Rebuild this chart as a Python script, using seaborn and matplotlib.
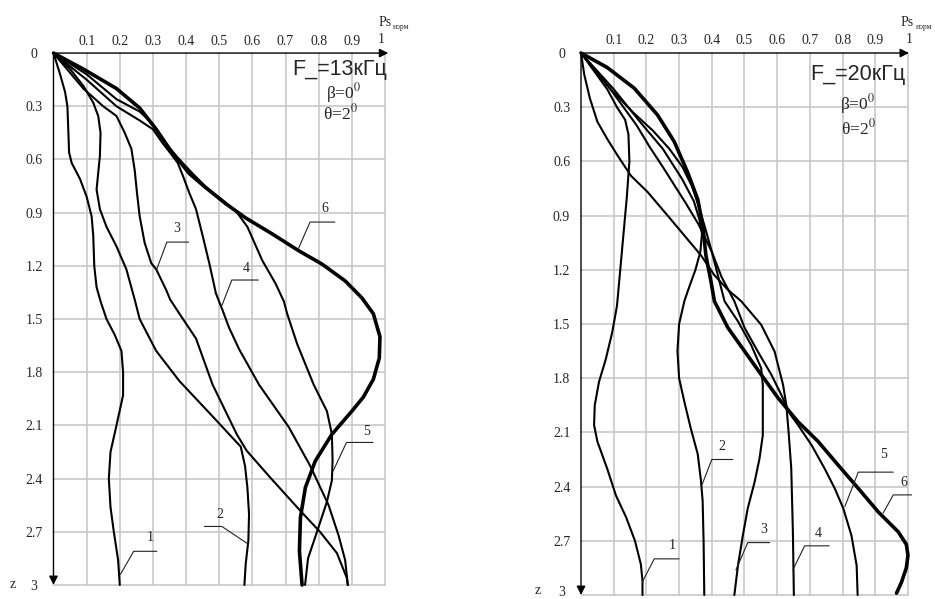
import matplotlib
matplotlib.use("Agg")
import matplotlib.pyplot as plt
import matplotlib.transforms as mtransforms
import seaborn as sns
import numpy as np

sns.set_style("white")
plt.rcParams['font.family'] = ['Liberation Serif', 'DejaVu Serif']
plt.rcParams['mathtext.fontset'] = 'stix'

# ---------------- data: F = 13 kHz (Ps_norm along x, depth z along y) ----------------
f13_c1_ps = [0, 0.02, 0.035, 0.042, 0.045, 0.047, 0.055, 0.08, 0.10, 0.115, 0.12, 0.123, 0.13, 0.142,
             0.16, 0.185, 0.205, 0.21, 0.21, 0.19, 0.172, 0.167, 0.172, 0.182, 0.195, 0.20]
f13_c1_z = [0, 0.12, 0.22, 0.30, 0.45, 0.56, 0.62, 0.71, 0.81, 0.92, 1.03, 1.20, 1.32, 1.40,
            1.50, 1.59, 1.68, 1.80, 1.93, 2.10, 2.25, 2.40, 2.56, 2.70, 2.86, 3.0]

f13_c2_ps = [0, 0.05, 0.09, 0.12, 0.135, 0.142, 0.14, 0.135, 0.13, 0.14, 0.16, 0.19, 0.22, 0.245,
             0.26, 0.31, 0.38, 0.483, 0.54, 0.565, 0.578, 0.585, 0.59, 0.588, 0.58, 0.576]
f13_c2_z = [0, 0.09, 0.185, 0.28, 0.355, 0.45, 0.58, 0.675, 0.77, 0.88, 0.98, 1.09, 1.22, 1.39,
            1.50, 1.68, 1.85, 2.055, 2.17, 2.22, 2.33, 2.45, 2.60, 2.75, 2.88, 3.0]

f13_c3_ps = [0, 0.09, 0.15, 0.19, 0.215, 0.235, 0.245, 0.252, 0.26, 0.275, 0.295, 0.31, 0.34, 0.352,
             0.38, 0.43, 0.48, 0.553, 0.583, 0.654, 0.744, 0.804, 0.855, 0.885, 0.888]
f13_c3_z = [0, 0.20, 0.30, 0.355, 0.45, 0.54, 0.66, 0.79, 0.92, 1.07, 1.185, 1.22, 1.336, 1.39,
            1.47, 1.61, 1.87, 2.15, 2.243, 2.394, 2.58, 2.70, 2.82, 2.96, 3.0]

f13_c4_ps = [0, 0.10, 0.19, 0.26, 0.30, 0.33, 0.355, 0.375, 0.39, 0.41, 0.43, 0.45, 0.47, 0.49,
             0.51, 0.53, 0.56, 0.62, 0.71, 0.775, 0.83, 0.86, 0.88, 0.888]
f13_c4_z = [0, 0.15, 0.30, 0.38, 0.43, 0.51, 0.57, 0.62, 0.69, 0.79, 0.88, 1.03, 1.185, 1.355,
            1.45, 1.55, 1.67, 1.87, 2.11, 2.33, 2.55, 2.72, 2.86, 3.0]

f13_c5_ps = [0, 0.10, 0.19, 0.26, 0.30, 0.33, 0.36, 0.385, 0.42, 0.46, 0.51, 0.55, 0.585, 0.63,
             0.67, 0.695, 0.705, 0.735, 0.785, 0.825, 0.84, 0.842, 0.84, 0.825, 0.795, 0.768, 0.759]
f13_c5_z = [0, 0.12, 0.26, 0.33, 0.40, 0.49, 0.56, 0.61, 0.68, 0.755, 0.83, 0.89, 0.98, 1.17,
            1.30, 1.40, 1.47, 1.64, 1.87, 2.02, 2.15, 2.30, 2.41, 2.53, 2.70, 2.85, 3.0]

f13_c6_ps = [0, 0.09, 0.19, 0.26, 0.31, 0.35, 0.38, 0.41, 0.46, 0.52, 0.58, 0.66, 0.74, 0.81,
             0.88, 0.93, 0.965, 0.985, 0.983, 0.965, 0.935, 0.90, 0.84, 0.79, 0.76, 0.745, 0.742, 0.75]
f13_c6_z = [0, 0.09, 0.20, 0.31, 0.43, 0.54, 0.61, 0.68, 0.76, 0.85, 0.93, 1.02, 1.115, 1.19,
            1.285, 1.38, 1.47, 1.60, 1.72, 1.84, 1.94, 2.02, 2.15, 2.30, 2.45, 2.62, 2.81, 3.0]

# ---------------- data: F = 20 kHz ----------------
f20_c1_ps = [0, 0.04, 0.08, 0.11, 0.135, 0.145, 0.148, 0.14, 0.13, 0.12, 0.11, 0.095, 0.075, 0.055,
             0.042, 0.04, 0.05, 0.08, 0.107, 0.138, 0.165, 0.183, 0.188, 0.188]
f20_c1_z = [0, 0.10, 0.20, 0.30, 0.37, 0.45, 0.60, 0.80, 1.00, 1.20, 1.40, 1.55, 1.70, 1.82,
            1.95, 2.06, 2.15, 2.30, 2.45, 2.57, 2.70, 2.83, 2.92, 3.0]

f20_c2_ps = [0, 0.10, 0.18, 0.25, 0.31, 0.345, 0.362, 0.37, 0.365, 0.35, 0.33, 0.316, 0.30, 0.295,
             0.30, 0.316, 0.336, 0.357, 0.367, 0.372, 0.375, 0.377]
f20_c2_z = [0, 0.20, 0.38, 0.53, 0.70, 0.82, 0.92, 1.00, 1.10, 1.20, 1.30, 1.374, 1.50, 1.65,
            1.80, 1.93, 2.08, 2.22, 2.37, 2.48, 2.71, 3.0]

f20_c3_ps = [0, 0.09, 0.13, 0.17, 0.21, 0.25, 0.285, 0.32, 0.36, 0.40, 0.42, 0.439, 0.48, 0.52,
             0.551, 0.556, 0.556, 0.556, 0.546, 0.531, 0.51, 0.495, 0.48, 0.469]
f20_c3_z = [0, 0.20, 0.30, 0.40, 0.52, 0.63, 0.73, 0.83, 0.95, 1.10, 1.24, 1.374, 1.485, 1.615,
            1.744, 1.837, 1.967, 2.115, 2.244, 2.374, 2.52, 2.67, 2.837, 3.0]

f20_c4_ps = [0, 0.01, 0.027, 0.05, 0.08, 0.112, 0.153, 0.204, 0.265, 0.316, 0.367, 0.408, 0.449, 0.49,
             0.551, 0.592, 0.618, 0.628, 0.635, 0.643, 0.648, 0.651]
f20_c4_z = [0, 0.12, 0.25, 0.38, 0.475, 0.568, 0.68, 0.77, 0.90, 1.01, 1.12, 1.23, 1.31, 1.374,
            1.504, 1.652, 1.837, 1.95, 2.10, 2.30, 2.65, 3.0]

f20_c5_ps = [0, 0.09, 0.16, 0.22, 0.27, 0.31, 0.34, 0.36, 0.38, 0.40, 0.43, 0.469, 0.50, 0.54,
             0.582, 0.612, 0.64, 0.664, 0.705, 0.745, 0.776, 0.802, 0.827, 0.843, 0.846]
f20_c5_z = [0, 0.20, 0.33, 0.43, 0.53, 0.63, 0.74, 0.85, 0.97, 1.10, 1.24, 1.374, 1.52, 1.65,
            1.78, 1.89, 2.00, 2.06, 2.17, 2.30, 2.41, 2.52, 2.67, 2.837, 3.0]

f20_c6_ps = [0, 0.08, 0.163, 0.234, 0.285, 0.326, 0.357, 0.372, 0.382, 0.398, 0.408, 0.449, 0.50, 0.551,
             0.603, 0.663, 0.725, 0.786, 0.848, 0.909, 0.97, 0.995, 1.0, 0.995, 0.98, 0.965]
f20_c6_z = [0, 0.08, 0.195, 0.343, 0.49, 0.66, 0.81, 0.95, 1.12, 1.27, 1.374, 1.52, 1.65, 1.78,
            1.91, 2.04, 2.15, 2.28, 2.41, 2.54, 2.65, 2.72, 2.78, 2.85, 2.93, 2.99]

x_ticks = [0.1, 0.2, 0.3, 0.4, 0.5, 0.6, 0.7, 0.8, 0.9]
x_tick_labels = ['0.1', '0.2', '0.3', '0.4', '0.5', '0.6', '0.7', '0.8', '0.9']
z_ticks = [0, 0.3, 0.6, 0.9, 1.2, 1.5, 1.8, 2.1, 2.4, 2.7, 3.0]
z_tick_labels = ['0', '0.3', '0.6', '0.9', '1.2', '1.5', '1.8', '2.1', '2.4', '2.7', '3']

curves13 = [(f13_c1_ps, f13_c1_z), (f13_c2_ps, f13_c2_z), (f13_c3_ps, f13_c3_z),
            (f13_c4_ps, f13_c4_z), (f13_c5_ps, f13_c5_z), (f13_c6_ps, f13_c6_z)]
curves20 = [(f20_c1_ps, f20_c1_z), (f20_c2_ps, f20_c2_z), (f20_c3_ps, f20_c3_z),
            (f20_c4_ps, f20_c4_z), (f20_c5_ps, f20_c5_z), (f20_c6_ps, f20_c6_z)]

# callout leaders: label -> (start on curve, elbow, end, text position)
leaders13 = {
    '1': [(0.202, 2.94), (0.242, 2.81), (0.312, 2.81), (0.292, 2.73)],
    '2': [(0.588, 2.77), (0.508, 2.67), (0.455, 2.67), (0.503, 2.60)],
    '3': [(0.312, 1.217), (0.342, 1.066), (0.408, 1.066), (0.373, 0.99)],
    '4': [(0.508, 1.424), (0.538, 1.28), (0.618, 1.28), (0.583, 1.217)],
    '5': [(0.844, 2.356), (0.884, 2.196), (0.964, 2.196), (0.945, 2.134)],
    '6': [(0.739, 1.103), (0.774, 0.953), (0.849, 0.953), (0.819, 0.877)],
}
leaders20 = {
    '1': [(0.188, 2.926), (0.224, 2.80), (0.30, 2.80), (0.28, 2.727)],
    '2': [(0.37, 2.39), (0.40, 2.25), (0.464, 2.25), (0.432, 2.18)],
    '3': [(0.474, 2.861), (0.51, 2.71), (0.577, 2.71), (0.558, 2.64)],
    '4': [(0.648, 2.861), (0.684, 2.728), (0.759, 2.728), (0.725, 2.658)],
    '5': [(0.807, 2.51), (0.848, 2.32), (0.955, 2.32), (0.924, 2.225)],
    '6': [(0.924, 2.547), (0.955, 2.446), (1.011, 2.446), (0.986, 2.38)],
}

fig = plt.figure(figsize=(9.35, 5.99), dpi=100)
ax1 = fig.add_axes([0.0572, 0.0234, 0.3545, 0.888])
ax2 = fig.add_axes([0.6214, 0.0067, 0.3497, 0.9048])

GRID = '#c4c4c4'


def draw_panel(ax, curves, leaders, freq_text, ftxt_pos, beta_pos, theta_pos,
               arrow_x_tip, one_pos, ps_pos, z_pos, last_label_lift):
    for v in np.arange(0.1, 1.001, 0.1):
        ax.axvline(v, color=GRID, lw=1.1, zorder=0, clip_on=False)
    for zz in z_ticks[1:]:
        ax.axhline(zz, color=GRID, lw=1.1, zorder=0, clip_on=False)

    for i, (ps, zz) in enumerate(curves):
        lw = 2.6 if i == 5 else 1.5
        sns.lineplot(x=ps, y=zz, sort=False, estimator=None, color='black',
                     linewidth=lw, ax=ax, zorder=3)
    for ln in ax.lines:
        ln.set_solid_joinstyle('round')
        ln.set_clip_on(False)

    for lab, pts in leaders.items():
        (x0, y0), (x1, y1), (x2, y2), (tx, ty) = pts
        ax.plot([x0, x1, x2], [y0, y1, y2], color='#222222', lw=0.8, zorder=4, clip_on=False)
        ax.text(tx, ty, lab, ha='center', va='center', fontsize=10, zorder=5)

    ax.set_xlim(0, 1)
    ax.set_ylim(3.0, 0)
    for s in ax.spines.values():
        s.set_visible(False)
    ax.xaxis.tick_top()
    ax.set_xticks(x_ticks)
    ax.set_xticklabels(x_tick_labels, fontsize=10)
    ax.set_yticks(z_ticks)
    ax.set_yticklabels(z_tick_labels, fontsize=10, ha='center')
    ax.tick_params(axis='x', length=0, pad=4)
    ax.tick_params(axis='y', length=0, pad=14)
    ax.set_xlabel('')
    ax.set_ylabel('')
    ax.grid(False)

    lift = mtransforms.ScaledTranslation(0, last_label_lift / 72.0, ax.figure.dpi_scale_trans)
    last = ax.get_yticklabels()[-1]
    last.set_transform(last.get_transform() + lift)

    arrow = dict(arrowstyle='-|>', lw=1.0, color='black', mutation_scale=13,
                 shrinkA=0, shrinkB=0)
    ax.annotate('', xy=(arrow_x_tip, 0), xytext=(0, 0), arrowprops=arrow,
                annotation_clip=False, zorder=6)
    ax.annotate('', xy=(0, 3.0), xytext=(0, 0), arrowprops=arrow,
                annotation_clip=False, zorder=6)

    ax.text(ftxt_pos[0], ftxt_pos[1], freq_text, ha='right', va='center',
            fontsize=15.5, family=['Liberation Sans', 'DejaVu Sans'], zorder=6)
    ax.text(beta_pos[0], beta_pos[1], r'β=0$^{0}$', ha='center', va='center',
            fontsize=12.5, zorder=6)
    ax.text(theta_pos[0], theta_pos[1], r'θ=2$^{0}$', ha='center', va='center',
            fontsize=12.5, zorder=6)
    ax.text(one_pos[0], one_pos[1], '1', ha='center', va='center', fontsize=10, clip_on=False)
    ax.text(ps_pos[0], ps_pos[1], 'Ps', ha='center', va='center', fontsize=10, clip_on=False)
    ax.text(ps_pos[0] + 0.05, ps_pos[1] + 0.025, 'норм', ha='center', va='center',
            fontsize=5.5, clip_on=False)
    t = ax.text(z_pos[0], z_pos[1], 'z', ha='center', va='center', fontsize=10, clip_on=False)
    t.set_transform(t.get_transform() + lift)


draw_panel(ax1, curves13, leaders13, 'F_=13кГц', (1.006, 0.092), (0.876, 0.228), (0.866, 0.342),
           1.01, (0.99, -0.075), (1.0, -0.17), (-0.122, 3.0), 0)
draw_panel(ax2, curves20, leaders20, 'F_=20кГц', (0.991, 0.118), (0.846, 0.285), (0.847, 0.415),
           1.003, (1.003, -0.074), (0.998, -0.168), (-0.131, 3.0), 3)

fig.savefig('out.png', dpi=100)
